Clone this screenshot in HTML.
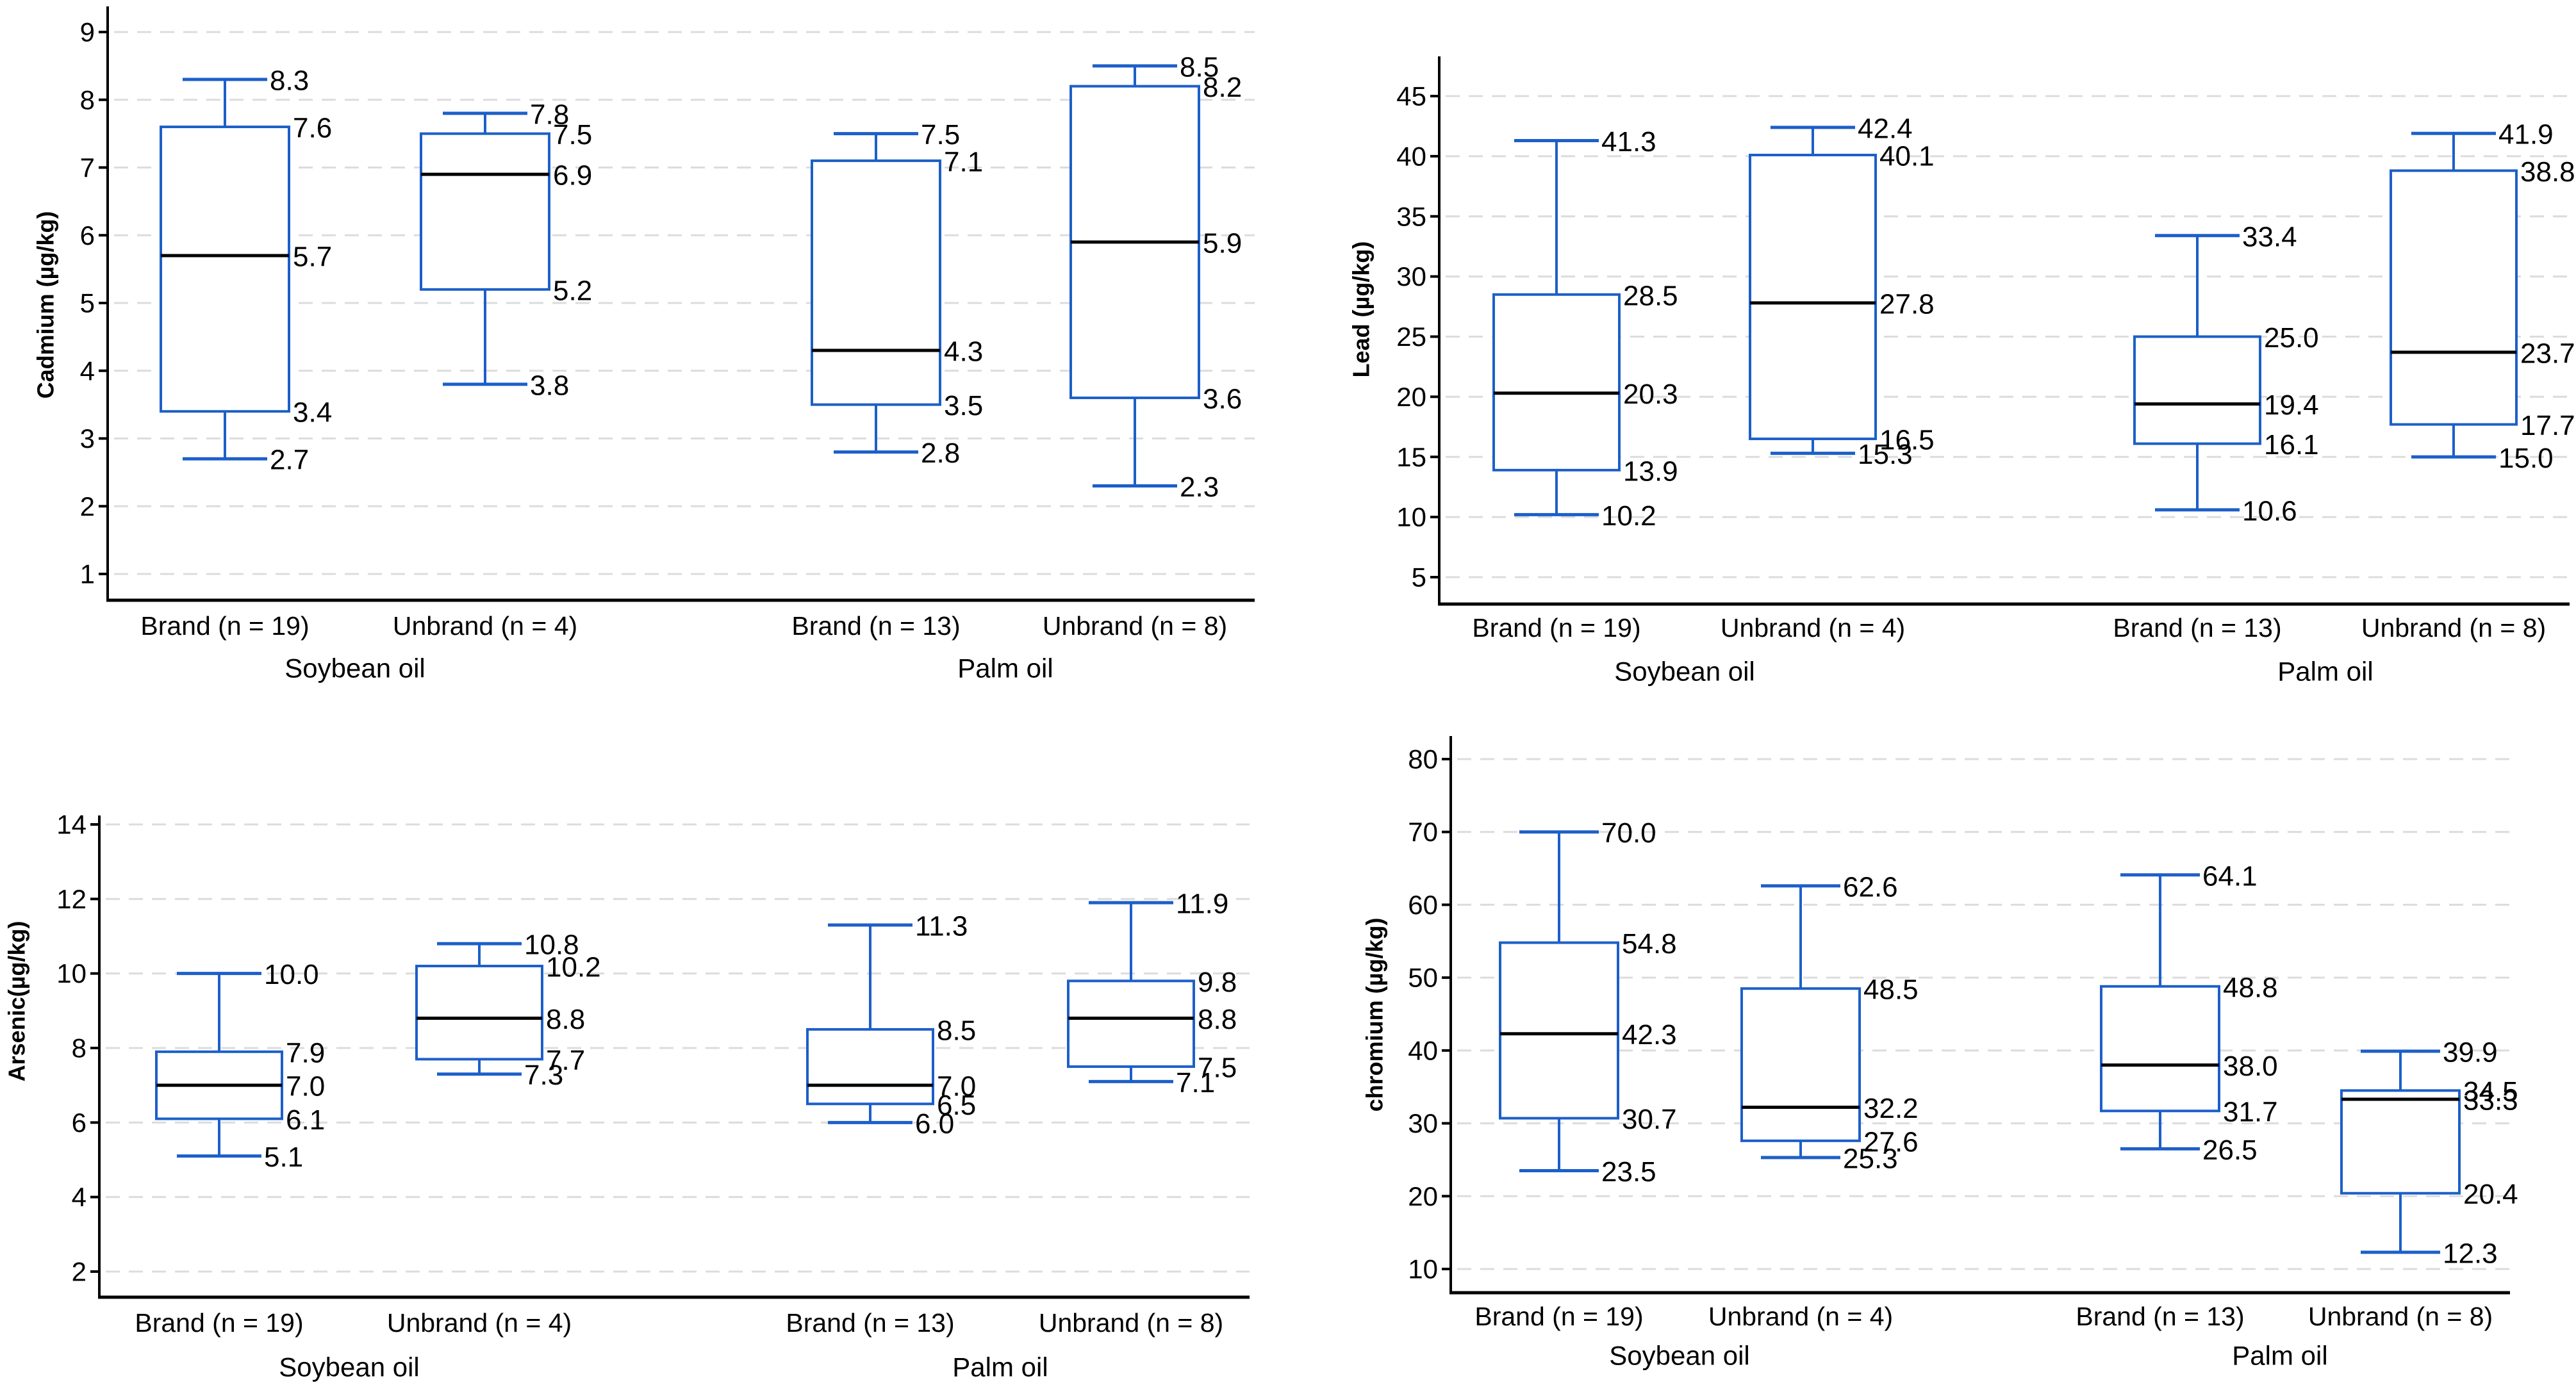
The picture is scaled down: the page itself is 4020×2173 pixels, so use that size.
<!DOCTYPE html>
<html><head><meta charset="utf-8"><style>
html,body{margin:0;padding:0;background:#fff;}
svg{display:block;font-family:"Liberation Sans",sans-serif;}
</style></head><body>
<svg id="fig" width="4020" height="2173" viewBox="0 0 4020 2173" xmlns="http://www.w3.org/2000/svg"></svg>
<script>
const categories = ["Brand (n = 19)","Unbrand (n = 4)","Brand (n = 13)","Unbrand (n = 8)"];
const groups = ["Soybean oil","Palm oil"];
// per metal: [lowWhisker, q1, median, q3, highWhisker]
const cadmiumStats = [[2.7,3.4,5.7,7.6,8.3],[3.8,5.2,6.9,7.5,7.8],[2.8,3.5,4.3,7.1,7.5],[2.3,3.6,5.9,8.2,8.5]];
const leadStats = [[10.2,13.9,20.3,28.5,41.3],[15.3,16.5,27.8,40.1,42.4],[10.6,16.1,19.4,25.0,33.4],[15.0,17.7,23.7,38.8,41.9]];
const arsenicStats = [[5.1,6.1,7.0,7.9,10.0],[7.3,7.7,8.8,10.2,10.8],[6.0,6.5,7.0,8.5,11.3],[7.1,7.5,8.8,9.8,11.9]];
const chromiumStats = [[23.5,30.7,42.3,54.8,70.0],[25.3,27.6,32.2,48.5,62.6],[26.5,31.7,38.0,48.8,64.1],[12.3,20.4,33.3,34.5,39.9]];
const cadmiumTicks = [1,2,3,4,5,6,7,8,9];
const leadTicks = [5,10,15,20,25,30,35,40,45];
const arsenicTicks = [2,4,6,8,10,12,14];
const chromiumTicks = [10,20,30,40,50,60,70,80];

const NS="http://www.w3.org/2000/svg";
const svg=document.getElementById('fig');
function mk(tag,attrs,parent){const e=document.createElementNS(NS,tag);for(const k in attrs)e.setAttribute(k,attrs[k]);(parent||svg).appendChild(e);return e;}

const panels=[
 {name:'cadmium',title:'Cadmium (µg/kg)',stats:cadmiumStats,ticks:cadmiumTicks,ax:168,top:10,bottom:937,right:1958,vlo:1,ylo:896,vhi:9,yhi:50,cx:[351,757,1367,1771],hw:100,cap:66,catY:977,grpY:1043,grpX:[554,1569],titleX:71,titleY:476},
 {name:'lead',title:'Lead (µg/kg)',stats:leadStats,ticks:leadTicks,ax:2246,top:88,bottom:943,right:4010,vlo:5,ylo:901,vhi:45,yhi:150,cx:[2429,2829,3429,3829],hw:98,cap:66,catY:980,grpY:1048,grpX:[2629,3629],titleX:2124,titleY:483},
 {name:'arsenic',title:'Arsenic(µg/kg)',stats:arsenicStats,ticks:arsenicTicks,ax:155,top:1273,bottom:2025,right:1950,vlo:2,ylo:1985,vhi:14,yhi:1287,cx:[342,748,1358,1765],hw:98,cap:66,catY:2065,grpY:2134,grpX:[545,1561],titleX:26,titleY:1563},
 {name:'chromium',title:'chromium (µg/kg)',stats:chromiumStats,ticks:chromiumTicks,ax:2264,top:1149,bottom:2018,right:3917,vlo:10,ylo:1981,vhi:80,yhi:1185,cx:[2433,2810,3371,3746],hw:92,cap:62,catY:2055,grpY:2116,grpX:[2621,3558],titleX:2145,titleY:1584}
];

panels.forEach(p=>{
  const g=mk('g',{});
  
  
  const y=v=>p.ylo+(v-p.vlo)*(p.yhi-p.ylo)/(p.vhi-p.vlo);
  p.ticks.forEach(t=>{
    const gl=mk('line',{x1:p.ax+10,x2:p.right,y1:y(t),y2:y(t),stroke:'#dcdcdc','stroke-width':3,'stroke-dasharray':'22 14'},g);
    
    
    const tk=mk('line',{x1:p.ax-14,x2:p.ax,y1:y(t),y2:y(t),stroke:'#000','stroke-width':4},g);
    
    
    const tl=mk('text',{x:p.ax-20,y:y(t),'text-anchor':'end','dominant-baseline':'central','font-size':42,fill:'#000'},g);
    tl.textContent=t;
    
    
  });
  const ya=mk('line',{x1:p.ax,x2:p.ax,y1:p.top,y2:p.bottom,stroke:'#000','stroke-width':4},g);
  
  
  const xa=mk('line',{x1:p.ax-2,x2:p.right,y1:p.bottom,y2:p.bottom,stroke:'#000','stroke-width':5},g);
  
  
  const tt=mk('text',{x:p.titleX,y:p.titleY,'text-anchor':'middle','dominant-baseline':'central','font-size':36,'font-weight':'bold',fill:'#000',transform:`rotate(-90 ${p.titleX} ${p.titleY})`},g);
  tt.textContent=p.title;
  
  
  p.stats.forEach((s,i)=>{
    const cx=p.cx[i];
    const b=mk('g',{},g);
    
    
    const blue='#1c5fc9';
    mk('line',{x1:cx,x2:cx,y1:y(s[4]),y2:y(s[3]),stroke:blue,'stroke-width':4},b);
    mk('line',{x1:cx,x2:cx,y1:y(s[1]),y2:y(s[0]),stroke:blue,'stroke-width':4},b);
    mk('line',{x1:cx-p.cap,x2:cx+p.cap,y1:y(s[4]),y2:y(s[4]),stroke:blue,'stroke-width':5},b);
    mk('line',{x1:cx-p.cap,x2:cx+p.cap,y1:y(s[0]),y2:y(s[0]),stroke:blue,'stroke-width':5},b);
    mk('rect',{x:cx-p.hw,y:y(s[3]),width:2*p.hw,height:y(s[1])-y(s[3]),fill:'#fff',stroke:blue,'stroke-width':4},b);
    mk('line',{x1:cx-p.hw,x2:cx+p.hw,y1:y(s[2]),y2:y(s[2]),stroke:'#000','stroke-width':5},b);
    s.forEach((v,k)=>{
      const lx=(k===0||k===4)?cx+p.cap+4:cx+p.hw+6;
      const lt=mk('text',{x:lx,y:y(v)+2,'dominant-baseline':'central','font-size':44,fill:'#000'},b);
      lt.textContent=v.toFixed(1);
      
      
    });
    const cl=mk('text',{x:cx,y:p.catY,'text-anchor':'middle','dominant-baseline':'central','font-size':41,fill:'#000'},g);
    cl.textContent=categories[i];
    
    
  });
  groups.forEach((gn,j)=>{
    const gt=mk('text',{x:p.grpX[j],y:p.grpY,'text-anchor':'middle','dominant-baseline':'central','font-size':42,fill:'#000'},g);
    gt.textContent=gn;
    
    
  });
});
</script>
</body></html>
